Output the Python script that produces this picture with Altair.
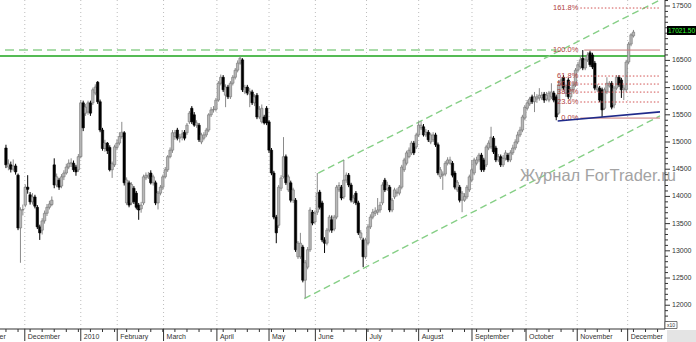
import altair as alt
import pandas as pd

# ---------------- data ----------------
OPEN = [14890,14540,14580,14500,14560,14390,13420,13750,13840,14170,14030,13900,13990,13800,13440,13380,13550,13690,13800,13850,
        14580,14210,14300,14190,14360,14430,14540,14600,14610,14540,14490,14730,15720,15530,15550,15720,15720,15900,16100,15740,
        15220,14880,14980,14900,14490,14580,14900,14980,15100,15170,13880,14250,13880,14150,14060,13840,13770,13880,14340,14360,
        14430,14250,14250,13880,14060,14170,14360,14490,14730,14850,15100,15220,15070,15090,15180,15170,15370,15620,15500,15310,
        15310,15000,15070,15130,15220,15500,15590,15600,15770,16080,16190,15860,16010,15830,16080,16190,16320,16450,16510,15920,
        16010,15880,15920,15720,15860,15460,15370,15460,15620,15370,14850,14430,13620,13470,14150,14360,14730,14120,14250,13930,
        13930,12890,12890,13070,12460,12700,13020,13710,13530,13710,14080,13880,13200,13140,13380,13570,13400,13620,14120,14170,
        13990,14300,14390,14210,13900,14060,13880,13240,13200,12890,13140,13440,13620,13690,13710,13750,13880,14300,14140,14170,
        13750,13990,14060,14060,14170,14490,14610,14730,14800,14980,14910,15130,15260,15280,15130,15180,15000,15040,15130,14950,
        14360,14390,14410,14610,14610,14610,14430,14120,14170,13930,13930,13990,14120,14300,14430,14610,14670,14760,14670,14580,
        14890,14910,15070,14890,14670,14730,14580,14700,14760,14670,14800,14890,15000,15130,15220,15440,15620,15700,15830,15740,
        15790,15810,15810,15880,15790,15770,15830,15900,15830,15530,16050,16190,15900,16140,15830,15960,16050,16320,16380,16540,
        16360,16510,16640,16600,16450,15960,15990,15960,15620,15920,16030,16080,15680,15990,16190,16140,15960,15960,16470,16800,
        16950]
HIGH = [14950,14680,14640,14680,14600,14420,13800,13850,14220,14390,14080,14060,14030,13840,13480,13600,13740,13860,13920,14000,
        14700,14420,14340,14410,14480,14600,14680,14700,14660,14580,14780,15770,15760,15700,15760,15760,16000,16060,16120,15780,
        15260,15040,15000,14940,14640,14950,15050,15180,15370,15200,14350,14290,14260,14190,14100,13880,13900,14400,14440,14450,
        14480,14400,14290,14100,14210,14400,14540,14760,14900,15220,15220,15260,15150,15220,15220,15350,15570,15660,15550,15400,
        15350,15170,15180,15260,15530,15640,15660,15810,16120,16240,16230,16060,16050,16120,16230,16360,16500,16580,16540,16050,
        16050,15990,15960,15880,15900,15660,15690,15500,15660,15400,14890,14470,13660,14210,14390,15090,14770,14400,14290,14160,
        13970,13180,13330,13110,12830,13070,13800,13750,13740,14430,14120,13920,13250,13420,13660,13650,13660,14210,14260,14210,
        14670,14440,14430,14250,14030,14100,13920,13380,13240,13240,13490,13670,13770,13800,13970,13900,14260,14340,14270,14210,
        13970,14160,14150,14210,14580,14710,14840,14900,15020,15020,15170,15380,15380,15330,15240,15220,15170,15180,15170,14990,
        14540,14460,14650,14720,14730,14650,14470,14300,14210,14100,14060,14210,14400,14670,14710,14730,14800,14800,14710,14950,
        15030,15280,15110,14930,14780,14770,14760,14850,14800,14850,14950,15050,15190,15280,15500,15680,15770,15830,15870,15920,
        15880,15990,15920,15920,15920,15940,16080,15940,15870,16140,16190,16230,16060,16180,16010,16100,16360,16470,16600,16690,
        16560,16650,16680,16640,16490,16060,16030,16000,16000,16190,16120,16120,16030,16230,16230,16180,16050,16510,16840,17000,
        17060]
LOW = [14520,14480,14440,14460,14400,13380,12780,13650,13800,14050,13850,13850,13780,13400,13200,13300,13500,13640,13760,13820,
       14150,14170,14120,14150,14300,14400,14500,14540,14450,14380,14450,14700,15200,15480,15500,15480,15680,15860,15700,15180,
       14840,14820,14780,14460,14340,14540,14850,14940,15060,14200,13840,13800,13840,13860,13760,13570,13700,13840,14300,14320,
       14220,14200,13840,13760,14020,14120,14330,14450,14700,14800,15040,15030,14990,15030,15030,15130,15330,15330,15280,15260,
       15000,14960,15030,15090,15180,15460,15540,15560,15740,16040,15920,15640,15790,15790,16040,16150,16280,16420,15920,15880,
       15860,15640,15680,15660,15420,15420,15340,15320,15310,14800,14390,13580,13140,13420,14100,14330,14210,14080,13890,13880,
       12980,12850,12850,12420,12130,12660,12980,13470,13490,13660,13760,13160,12960,13100,13340,13330,13360,13580,14080,13930,
       13950,14250,14170,13890,13860,13840,13290,13200,12700,12850,13100,13400,13580,13640,13660,13700,13840,14080,14100,13710,
       13710,13950,14000,14020,14130,14450,14570,14700,14760,14760,14870,15090,15220,15100,15090,15000,14960,15000,14910,14390,
       14320,14120,14370,14570,14580,14350,14130,14080,13890,13710,13900,13950,14080,14260,14390,14570,14630,14450,14450,14540,
       14850,14870,14780,14630,14630,14540,14540,14660,14630,14630,14760,14850,14960,15090,15180,15400,15580,15660,15700,15550,
       15720,15760,15770,15720,15750,15730,15790,15730,15400,15500,15960,15950,15830,15790,15790,15900,16010,16280,16340,16320,
       16320,16470,16380,16340,15950,15920,15730,15460,15590,15880,16000,15600,15620,15950,16010,15810,15770,15920,16430,16760,
       16920]
CLOSE = [14580,14600,14500,14560,14450,13420,13750,13760,14170,14130,13900,13990,13820,13440,13330,13550,13690,13800,13860,13930,
         14210,14360,14170,14360,14430,14540,14610,14620,14490,14450,14730,15720,15260,15640,15720,15530,15960,16010,15740,15220,
         14880,14980,14840,14490,14600,14910,14980,15100,15180,14250,14300,13840,14220,13900,13800,13750,13840,14360,14390,14390,
         14250,14360,13880,14060,14170,14360,14490,14730,14850,15170,15170,15070,15090,15150,15070,15310,15530,15370,15310,15350,
         15040,15130,15130,15220,15500,15590,15600,15770,16080,16190,15960,16010,15830,16080,16190,16320,16450,16540,15960,16000,
         15900,15930,15720,15830,15460,15600,15620,15350,15350,14850,14430,13620,13330,14170,14340,14730,14250,14360,13930,14120,
         13020,13140,13140,12460,12780,13020,13750,13510,13690,14060,13800,13200,13140,13380,13620,13380,13620,14170,14200,13970,
         14300,14390,14210,13930,13970,13880,13330,13330,12890,13200,13440,13620,13710,13730,13750,13840,14210,14120,14210,13750,
         13930,14120,14080,14170,14540,14670,14800,14850,14980,14800,15130,15310,15310,15130,15180,15040,15130,15130,14950,14430,
         14490,14410,14610,14670,14670,14390,14170,14260,13930,14060,14000,14170,14360,14490,14670,14670,14760,14490,14490,14910,
         14980,15090,14820,14670,14730,14580,14700,14800,14670,14800,14890,15000,15130,15220,15460,15640,15720,15790,15740,15830,
         15830,15860,15860,15770,15860,15900,15920,15770,15460,16050,16140,15990,16010,15830,15960,16050,16320,16420,16510,16360,
         16510,16600,16420,16380,15990,16010,15770,15590,15960,16080,16080,15640,15990,16190,16050,15960,15990,16470,16800,16970,
         17020]

MONTH_NAMES = ["November", "December", "2010", "February", "March", "April", "May", "June",
               "July", "August", "September", "October", "November", "December"]
MONTH_POS = [-14.7, 7.8, 31.0, 46.1, 65.3, 87.4, 109.0, 128.2, 149.4, 171.0, 193.1, 215.5, 236.7, 257.6]

Y_TICKS = list(range(12000, 17501, 500))
Y_HIDDEN_LABEL = 17000          # covered by the last-price box in the reference
FIB_RATIOS = [0.0, 0.236, 0.382, 0.5, 0.618, 1.0, 1.618]
FIB_LABELS = ["0.0%", "23.6%", "38.2%", "50.0%", "61.8%", "100.0%", "161.8%"]
FIB_LOW, FIB_HIGH = 15440, 16690

GREEN_SOLID_LEVEL = 16580
GREEN_DASH_LEVEL = 16690
CHANNEL_UPPER = [(129.4, 14430), (270.5, 17600)]
CHANNEL_LOWER = [(123.6, 12120), (271.0, 15480)]
BLUE_LINE = [(228.6, 15386), (271.0, 15553)]
LAST_PRICE = "17021.50"

# ---------------- layout ----------------
W, H = 665, 329
FONT = "Liberation Sans"
xscale = alt.Scale(domain=[-0.4, 271.0], nice=False, zero=False)
yscale = alt.Scale(domain=[11563, 17610], nice=False, zero=False)


def X(f):
    return alt.X(f, type="quantitative", scale=xscale, axis=None)


def Y(f):
    return alt.Y(f, type="quantitative", scale=yscale, axis=None)


n = len(CLOSE)
candles = pd.DataFrame({"i": list(range(n)), "o": OPEN, "h": HIGH, "l": LOW, "c": CLOSE})

months = pd.DataFrame({"pos": MONTH_POS, "name": MONTH_NAMES})
months_in = months[months["pos"] >= 0].reset_index(drop=True)
minor_x = pd.DataFrame({"pos": [p for p in range(0, 271, 5)]})
minor_y = pd.DataFrame({"v": [v for v in range(11600, 17601, 100) if v % 500 != 0]})
major_y = pd.DataFrame({"v": Y_TICKS,
                        "lab": ["" if v == Y_HIDDEN_LABEL else str(v) for v in Y_TICKS]})

grid = alt.Chart(months_in).mark_rule(color="#bdbdbd", strokeDash=[1, 3], strokeWidth=1).encode(
    x=X("pos"), y=alt.value(0), y2=alt.value(H))

lines_df = pd.DataFrame({
    "x1": [CHANNEL_UPPER[0][0], CHANNEL_LOWER[0][0]],
    "y1": [CHANNEL_UPPER[0][1], CHANNEL_LOWER[0][1]],
    "x2": [CHANNEL_UPPER[1][0], CHANNEL_LOWER[1][0]],
    "y2": [CHANNEL_UPPER[1][1], CHANNEL_LOWER[1][1]],
})
channel = alt.Chart(lines_df).mark_rule(color="#86cf86", strokeWidth=1.4, strokeDash=[7, 4]).encode(
    x=X("x1"), y=Y("y1"), x2="x2", y2="y2")

hdash = alt.Chart(pd.DataFrame({"x1": [-0.4], "x2": [228.2], "v": [GREEN_DASH_LEVEL]})).mark_rule(
    color="#8fd18f", strokeWidth=1.5, strokeDash=[9, 5]).encode(x=X("x1"), x2="x2", y=Y("v"))
hsolid = alt.Chart(pd.DataFrame({"v": [GREEN_SOLID_LEVEL]})).mark_rule(
    color="#55bb55", strokeWidth=2).encode(x=alt.value(0), x2=alt.value(W), y=Y("v"))

wicks = alt.Chart(candles).mark_rule(strokeWidth=1).encode(
    x=X("i"), y=Y("l"), y2="h",
    color=alt.condition("datum.c >= datum.o", alt.value("#8a8a8a"), alt.value("#000000")))
bodies = alt.Chart(candles).mark_bar(size=2.4, strokeWidth=0.6).encode(
    x=X("i"), y=Y("o"), y2="c",
    fill=alt.condition("datum.c >= datum.o", alt.value("#b8b8b8"), alt.value("#000000")),
    stroke=alt.condition("datum.c >= datum.o", alt.value("#707070"), alt.value("#000000")))

fib = pd.DataFrame({
    "v": [FIB_LOW + r * (FIB_HIGH - FIB_LOW) for r in FIB_RATIOS],
    "label": FIB_LABELS,
    "kind": ["solid" if r in (0.0, 1.0) else "dot" for r in FIB_RATIOS],
    "x1": [238.0 if r != 1.0 else 239.6 for r in FIB_RATIOS],
    "x2": [271.0] * len(FIB_RATIOS),
    "xl": [237.6] * len(FIB_RATIOS),
})
fib_solid = alt.Chart(fib[fib["kind"] == "solid"].reset_index(drop=True)).mark_rule(
    color="#c87878", strokeWidth=1).encode(x=X("x1"), x2="x2", y=Y("v"))
fib_dot = alt.Chart(fib[fib["kind"] == "dot"].reset_index(drop=True)).mark_rule(
    color="#d05050", strokeWidth=1, strokeDash=[1.5, 2]).encode(x=X("x1"), x2="x2", y=Y("v"))
fib_text = alt.Chart(fib).mark_text(align="right", baseline="middle", font=FONT, fontSize=7.5,
                                    color="#b04040", dx=-1).encode(
    x=X("xl"), y=Y("v"), text="label")

blue = alt.Chart(pd.DataFrame({"x1": [BLUE_LINE[0][0]], "y1": [BLUE_LINE[0][1]],
                               "x2": [BLUE_LINE[1][0]], "y2": [BLUE_LINE[1][1]]})).mark_rule(
    color="#1f2a8a", strokeWidth=1.6).encode(x=X("x1"), y=Y("y1"), x2="x2", y2="y2")

watermark = alt.Chart(pd.DataFrame({"t": ["Журнал ForTrader.ru"]})).mark_text(
    align="left", baseline="middle", font=FONT, fontSize=16.5, color="#a3a3a3").encode(
    x=alt.value(520), y=alt.value(176), text="t")

# axes drawn by hand
one = pd.DataFrame({"a": [0]})
xaxis_line = alt.Chart(one).mark_rule(color="#333", strokeWidth=1).encode(
    x=alt.value(0), x2=alt.value(W), y=alt.value(H))
yaxis_line = alt.Chart(one).mark_rule(color="#333", strokeWidth=1).encode(
    x=alt.value(W), y=alt.value(0), y2=alt.value(H))
xmajor = alt.Chart(months).mark_rule(color="#333", strokeWidth=1).encode(
    x=X("pos"), y=alt.value(H), y2=alt.value(341))
xminor = alt.Chart(minor_x).mark_rule(color="#333", strokeWidth=1).encode(
    x=X("pos"), y=alt.value(H), y2=alt.value(H + 3))
xlabels = alt.Chart(months).mark_text(align="left", baseline="middle", font=FONT, fontSize=7,
                                      color="#333", dx=3).encode(
    x=X("pos"), y=alt.value(336.5), text="name")
yminor = alt.Chart(minor_y).mark_rule(color="#333", strokeWidth=1).encode(
    x=alt.value(W), x2=alt.value(W + 3), y=Y("v"))
ymajor = alt.Chart(major_y).mark_rule(color="#333", strokeWidth=1).encode(
    x=alt.value(W), x2=alt.value(W + 5), y=Y("v"))
ylabels = alt.Chart(major_y).mark_text(align="left", baseline="middle", font=FONT, fontSize=7,
                                       color="#333").encode(
    x=alt.value(W + 7), y=Y("v"), text="lab")

box_df = pd.DataFrame({"t": [LAST_PRICE]})
pbox = alt.Chart(box_df).mark_rect(color="#000000").encode(
    x=alt.value(667), x2=alt.value(696), y=alt.value(26), y2=alt.value(35))
ptext = alt.Chart(box_df).mark_text(align="center", baseline="middle", font=FONT, fontSize=6.5,
                                    color="#33ff33").encode(x=alt.value(681.5), y=alt.value(30.8), text="t")
x10_df = pd.DataFrame({"t": ["x10"]})
x10box = alt.Chart(x10_df).mark_rect(fill="#ffffff", stroke="#555555", strokeWidth=0.8).encode(
    x=alt.value(665), x2=alt.value(677), y=alt.value(321.5), y2=alt.value(328.5))
x10text = alt.Chart(x10_df).mark_text(align="center", baseline="middle", font=FONT, fontSize=5,
                                      color="#333").encode(x=alt.value(671), y=alt.value(325.2), text="t")
greybar = alt.Chart(x10_df).mark_rect(color="#e4e4e4").encode(
    x=alt.value(667), x2=alt.value(696), y=alt.value(330), y2=alt.value(342))

chart = alt.layer(
    grid, hsolid, hdash, channel, wicks, bodies, fib_solid, fib_dot, fib_text, blue, watermark,
    xaxis_line, yaxis_line, xmajor, xminor, xlabels, yminor, ymajor, ylabels,
    greybar, pbox, ptext, x10box, x10text,
).properties(
    width=W, height=H,
    autosize=alt.AutoSizeParams(type="none"),
    padding={"left": 0, "top": 0, "right": 31, "bottom": 13},
    background="#ffffff",
).configure_view(stroke=None)

chart.save("out.html", embed_options={"renderer": "svg", "actions": False})
